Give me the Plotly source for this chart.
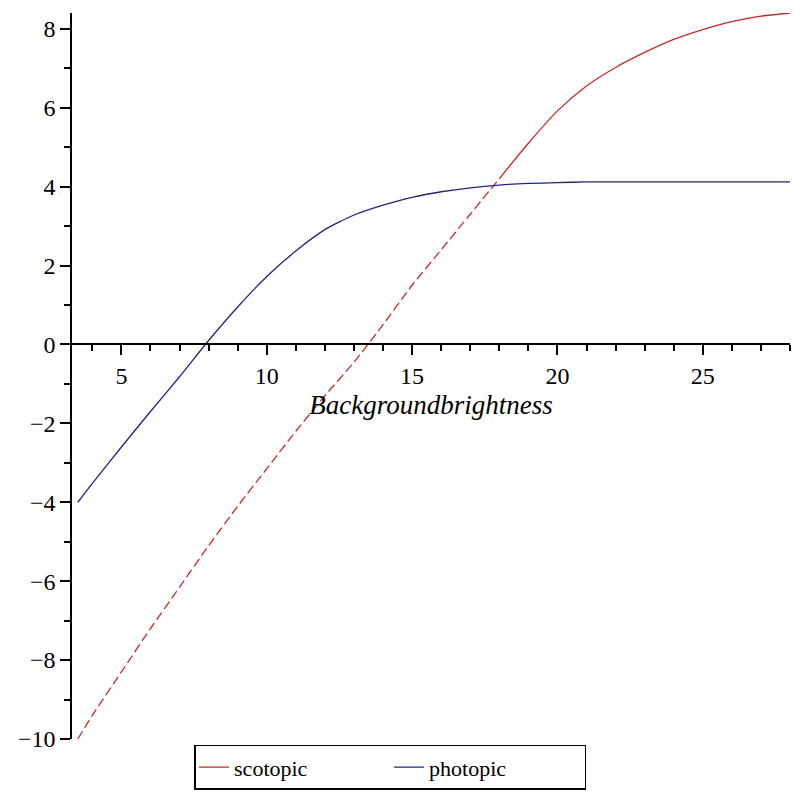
import plotly.graph_objects as go

# Background brightness values (x)
brightness = [3.5, 4, 5, 6, 7, 8, 9, 10, 11, 12, 13, 14, 15, 16, 17, 18,
              19, 20, 21, 22, 23, 24, 25, 26, 27, 28]
# Scotopic curve (red)
scotopic = [-10.0, -9.4, -8.3, -7.2, -6.15, -5.1, -4.1, -3.15, -2.2, -1.3,
            -0.45, 0.5, 1.5, 2.4, 3.3, 4.2, 5.1, 5.92, 6.55, 7.02, 7.4,
            7.73, 7.98, 8.18, 8.32, 8.4]
# Photopic curve (blue)
photopic = [-4.0, -3.52, -2.6, -1.7, -0.82, 0.1, 0.95, 1.72, 2.37, 2.91,
            3.28, 3.53, 3.73, 3.87, 3.97, 4.04, 4.08, 4.10, 4.12, 4.12,
            4.12, 4.12, 4.12, 4.12, 4.12, 4.12]

x_ticks = [5, 10, 15, 20, 25]
y_ticks = [-10, -8, -6, -4, -2, 0, 2, 4, 6, 8]

RED = "#c42a2a"
BLUE = "#23237e"
split = brightness.index(18)

fig = go.Figure()
# dashed lower portion of scotopic
fig.add_trace(go.Scatter(
    x=brightness[:split + 1], y=scotopic[:split + 1], mode="lines",
    line=dict(color=RED, width=1.3, dash="9px,4px", shape="spline", smoothing=0.6),
    showlegend=False, legendgroup="s", hoverinfo="skip"))
fig.add_trace(go.Scatter(
    x=brightness[split:], y=scotopic[split:], mode="lines", name="scotopic",
    line=dict(color=RED, width=1.3, shape="spline", smoothing=0.8),
    legendgroup="s"))
fig.add_trace(go.Scatter(
    x=brightness, y=photopic, mode="lines", name="photopic",
    line=dict(color=BLUE, width=1.3, shape="spline", smoothing=0.6)))

ymin, ymax = -10, 8.4
tickfont = dict(family="Liberation Serif", size=24, color="black")

fig.update_layout(
    width=795, height=794,
    margin=dict(l=72, r=5, t=13, b=55, autoexpand=False),
    paper_bgcolor="white", plot_bgcolor="white",
    font=dict(family="Liberation Serif", color="black"),
    xaxis=dict(
        range=[3.3, 28.0], showgrid=False, zeroline=False, automargin=False,
        anchor="free", position=(0 - ymin) / (ymax - ymin),
        showline=True, linecolor="black", linewidth=1.5,
        ticks="outside", ticklen=10, tickwidth=1.5, tickcolor="black",
        tickvals=x_ticks, tickfont=tickfont,
        minor=dict(dtick=1, ticks="outside", ticklen=6, tickwidth=1.5, tickcolor="black"),
        title=dict(text="<i>Backgroundbrightness</i>",
                   font=dict(family="Liberation Serif", size=27, color="black"),
                   standoff=6),
    ),
    yaxis=dict(
        range=[ymin, ymax], showgrid=False, zeroline=False, automargin=False,
        showline=True, linecolor="black", linewidth=1.5,
        ticks="outside", ticklen=10, tickwidth=1.5, tickcolor="black",
        tickvals=y_ticks, tickfont=tickfont,
        minor=dict(dtick=1, ticks="outside", ticklen=6, tickwidth=1.5, tickcolor="black"),
    ),
    legend=dict(
        orientation="h", x=0.17, xanchor="left", y=-0.008, yanchor="top",
        bordercolor="black", borderwidth=1.5, entrywidth=150,
        font=dict(family="Liberation Serif", size=22, color="black"),
        bgcolor="white", tracegroupgap=0, valign="middle",
    ),
)

fig.write_html("out.html", config={"displayModeBar": False},
               post_script="document.body.style.margin='0';document.body.style.overflow='hidden';")
